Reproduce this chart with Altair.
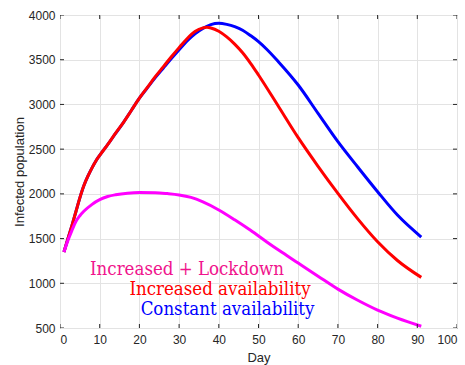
import altair as alt
import pandas as pd

# Constant availability (blue)
blue_day = [1, 2, 3, 4, 5, 6, 7, 8, 9, 10, 12, 14, 16, 18, 20, 22, 24, 26, 28, 30, 32, 34,
            36, 38, 40, 42, 44, 46, 48, 50, 52, 55, 60, 65, 70, 75, 80, 85, 91]
blue_val = [1350, 1500, 1645, 1800, 1955, 2090, 2195, 2285, 2365, 2430, 2550, 2675, 2800,
            2935, 3070, 3185, 3300, 3405, 3510, 3610, 3710, 3790, 3850, 3893, 3907, 3895,
            3870, 3830, 3770, 3702, 3620, 3478, 3217, 2900, 2583, 2300, 2024, 1763, 1517]

# Increased availability (red)
red_day = [1, 2, 3, 4, 5, 6, 7, 8, 9, 10, 12, 14, 16, 18, 20, 22, 24, 26, 28, 30, 32, 34,
           36, 37, 38, 40, 42, 44, 46, 48, 50, 55, 60, 65, 70, 75, 80, 85, 91]
red_val = [1350, 1500, 1645, 1800, 1955, 2090, 2195, 2285, 2365, 2430, 2550, 2680, 2800,
           2935, 3070, 3190, 3310, 3420, 3530, 3635, 3735, 3815, 3856, 3862, 3855, 3818,
           3755, 3675, 3578, 3460, 3329, 2980, 2628, 2308, 2005, 1720, 1464, 1255, 1066]

# Increased availability + lockdown (magenta)
mag_day = [1, 2, 3, 4, 5, 6, 8, 10, 12, 14, 17, 20, 24, 27, 30, 33, 36, 40, 44, 48,
           52, 56, 60, 65, 70, 75, 80, 85, 91]
mag_val = [1350, 1480, 1590, 1690, 1755, 1805, 1880, 1935, 1970, 1990, 2008, 2015, 2013,
           2003, 1988, 1960, 1910, 1820, 1710, 1592, 1465, 1343, 1226, 1080, 935, 810,
           700, 610, 520]

# In-plot annotations
note_text = ["Increased + Lockdown", "Increased availability", "Constant availability"]
note_day = [32.0, 40.3, 42.2]
note_val = [1093, 869, 646]
note_color = ["#F0148C", "#FF0000", "#0000FF"]

x_ticks = list(range(0, 101, 10))
y_ticks = list(range(500, 4001, 500))

AX = "#262626"
x_scale = alt.Scale(domain=[0, 100], nice=False, zero=False)
y_scale = alt.Scale(domain=[500, 4000], nice=False, zero=False)

x_axis = alt.Axis(values=x_ticks, format="d", title="Day", grid=True, ticks=False,
                  tickSize=0, domain=False, labelPadding=6, titlePadding=6)
y_axis = alt.Axis(values=y_ticks, format="d", title="Infected population", grid=True,
                  ticks=False, tickSize=0, domain=False, labelPadding=5, titlePadding=2)


def series_layer(days, vals, color):
    df = pd.DataFrame({"day": days, "value": vals})
    return alt.Chart(df).mark_line(
        color=color, strokeWidth=3, interpolate="monotone", clip=True
    ).encode(
        x=alt.X("day:Q", scale=x_scale, axis=x_axis),
        y=alt.Y("value:Q", scale=y_scale, axis=y_axis),
    )


blue = series_layer(blue_day, blue_val, "#0000FF")
red = series_layer(red_day, red_val, "#FF0000")
mag = series_layer(mag_day, mag_val, "#FF00FF")

notes_df = pd.DataFrame({"label": note_text, "day": note_day, "value": note_val,
                         "c": note_color})
notes = alt.Chart(notes_df).mark_text(
    font="DejaVu Serif Condensed, DejaVu Serif", fontSize=18.5, align="center",
    baseline="alphabetic"
).encode(
    x=alt.X("day:Q", scale=x_scale, axis=x_axis),
    y=alt.Y("value:Q", scale=y_scale, axis=y_axis),
    text="label:N",
    color=alt.Color("c:N", scale=None),
)

# Inward-pointing tick marks: centred on the frame and clipped to the plot
xt = pd.DataFrame({"t": x_ticks})
yt = pd.DataFrame({"t": y_ticks})
tick_style = dict(color=AX, size=8, thickness=1, opacity=1, clip=True)
bottom_ticks = alt.Chart(xt).mark_tick(orient="vertical", **tick_style).encode(
    x=alt.X("t:Q", scale=x_scale, axis=x_axis),
    y=alt.YDatum(500, scale=y_scale, axis=y_axis))
top_ticks = alt.Chart(xt).mark_tick(orient="vertical", **tick_style).encode(
    x=alt.X("t:Q", scale=x_scale, axis=x_axis),
    y=alt.YDatum(4000, scale=y_scale, axis=y_axis))
left_ticks = alt.Chart(yt).mark_tick(orient="horizontal", **tick_style).encode(
    y=alt.Y("t:Q", scale=y_scale, axis=y_axis),
    x=alt.XDatum(0, scale=x_scale, axis=x_axis))
right_ticks = alt.Chart(yt).mark_tick(orient="horizontal", **tick_style).encode(
    y=alt.Y("t:Q", scale=y_scale, axis=y_axis),
    x=alt.XDatum(100, scale=x_scale, axis=x_axis))

chart = alt.layer(
    blue, red, mag, notes, bottom_ticks, top_ticks, left_ticks, right_ticks
).properties(
    width=397, height=313,
    autosize=alt.AutoSizeParams(type="none"),
    padding={"left": 60, "top": 15, "right": 8, "bottom": 37},
    background="white",
).configure_view(
    stroke=AX, strokeWidth=1
).configure_axis(
    labelFont="Liberation Sans", labelFontSize=12, labelColor=AX,
    titleFont="Liberation Sans", titleFontSize=13, titleColor=AX, titleFontWeight="normal",
    gridColor="#E3E3E3", gridWidth=1,
)

chart.save("out.html", embed_options={"renderer": "svg", "actions": False})
